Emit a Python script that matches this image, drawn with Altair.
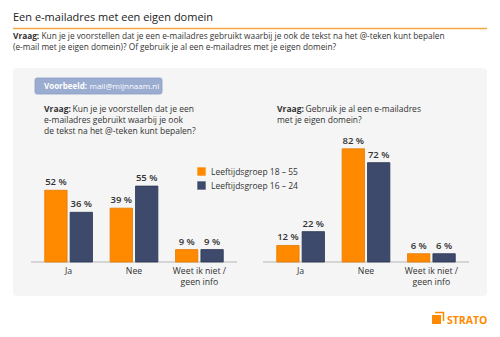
import altair as alt
import pandas as pd

categories = ["Ja", "Nee", "Weet ik niet /\ngeen info"]
groups = ["Leeftijdsgroep 18 – 55", "Leeftijdsgroep 16 – 24"]
left_18_55 = [52, 39, 9]
left_16_24 = [36, 55, 9]
right_18_55 = [12, 82, 6]
right_16_24 = [22, 72, 6]

ORANGE = "#ff8a00"
NAVY = "#3d4a6b"
FONT = "Open Sans"
TXT = "#333333"


def table(a, b):
    rows = []
    for i, c in enumerate(categories):
        rows.append({"cat": c, "group": groups[0], "value": a[i], "label": f"{a[i]} %"})
        rows.append({"cat": c, "group": groups[1], "value": b[i], "label": f"{b[i]} %"})
    return pd.DataFrame(rows)


cats_df = pd.DataFrame({
    "cat": categories,
    "l1": [c.split("\n")[0] for c in categories],
    "l2": [c.split("\n")[1] if "\n" in c else "" for c in categories],
})

yscale = alt.Scale(domain=[0, 100], range=[262, 124])
color = alt.Color(
    "group:N",
    scale=alt.Scale(domain=groups, range=[ORANGE, NAVY]),
    legend=alt.Legend(
        title=None, orient="none", legendX=197, legendY=167, symbolType="square",
        symbolSize=70, symbolStrokeWidth=0, labelFont=FONT, labelFontSize=8.5,
        labelColor=TXT, rowPadding=5, symbolOffset=0, labelOffset=5,
    ),
)


def panel(df, xr):
    xs = alt.Scale(domain=categories, range=xr, paddingInner=0.27, paddingOuter=0.21)
    xo = alt.Scale(domain=groups, paddingInner=0.12)
    bars = alt.Chart(df).mark_bar(strokeWidth=0.8).encode(
        x=alt.X("cat:N", scale=xs, axis=None, sort=categories),
        xOffset=alt.XOffset("group:N", scale=xo, sort=groups),
        y=alt.Y("value:Q", scale=yscale, axis=None),
        y2=alt.datum(0),
        color=color,
        stroke=alt.Stroke("group:N", scale=alt.Scale(domain=groups, range=["#e57a00", "#2b3652"]), legend=None),
    )
    vals = alt.Chart(df).mark_text(
        font=FONT, fontSize=9.5, fontWeight=600, color=TXT, dy=-5, baseline="alphabetic"
    ).encode(
        x=alt.X("cat:N", scale=xs, axis=None, sort=categories),
        xOffset=alt.XOffset("group:N", scale=xo, sort=groups),
        y=alt.Y("value:Q", scale=yscale, axis=None),
        text="label:N",
    )
    base = alt.Chart(df).mark_rule(color="#b5b5b5", strokeWidth=1).encode(
        x=alt.value(xr[0]), x2=alt.value(xr[1]), y=alt.Y("value:Q", scale=yscale, axis=None),
    ).transform_aggregate(value="min(value)").transform_calculate(value="0")
    cl1 = alt.Chart(cats_df).mark_text(
        font=FONT, fontSize=8.7, color=TXT, baseline="alphabetic"
    ).encode(
        x=alt.X("cat:N", scale=xs, axis=None, sort=categories),
        y=alt.value(273.5),
        text="l1:N",
    )
    cl2 = alt.Chart(cats_df).mark_text(
        font=FONT, fontSize=8.7, color=TXT, baseline="alphabetic"
    ).encode(
        x=alt.X("cat:N", scale=xs, axis=None, sort=categories),
        y=alt.value(284.5),
        text="l2:N",
    )
    return alt.layer(base, bars, vals, cl1, cl2)


left = panel(table(left_18_55, left_16_24), [31, 237])
right = panel(table(right_18_55, right_16_24), [263, 469])


def txt(s, x, y, size=8.5, weight="normal", col=TXT, align="left"):
    return alt.Chart(pd.DataFrame({"t": [s]})).mark_text(
        font=FONT, fontSize=size, fontWeight=weight, color=col, align=align, baseline="alphabetic"
    ).encode(x=alt.value(x), y=alt.value(y), text="t:N")


def rect(x, x2, y, y2, fill, stroke=None, r=0):
    kw = dict(fill=fill, cornerRadius=r)
    if stroke:
        kw["stroke"] = stroke
        kw["strokeWidth"] = 0.8
    return alt.Chart(pd.DataFrame({"a": [0]})).mark_rect(**kw).encode(
        x=alt.value(x), x2=alt.value(x2), y=alt.value(y), y2=alt.value(y2)
    )


layers = [
    rect(13, 487, 68, 296, "#f5f5f5", r=3),
    txt("Een e-mailadres met een eigen domein", 13, 21, size=11, col="#222222"),
    alt.Chart(pd.DataFrame({"a": [0]})).mark_rule(color="#f7a640", strokeWidth=1.3).encode(
        x=alt.value(13), x2=alt.value(487), y=alt.value(28.5)
    ),
    txt("Vraag:", 13, 39, size=8.3, weight="bold"),
    txt("Kun je je voorstellen dat je een e-mailadres gebruikt waarbij je ook de tekst na het @-teken kunt bepalen", 41.5, 39, size=8.3),
    txt("(e-mail met je eigen domein)? Of gebruik je al een e-mailadres met je eigen domein?", 13, 50, size=8.3),
    rect(35, 162, 78, 94, "#9aacd0", stroke="#8a9cc2", r=2),
    txt("Voorbeeld:", 44, 89, size=8, weight="bold", col="#ffffff"),
    txt("mail@mijnnaam.nl", 89.5, 89, size=8, col="#ffffff"),
    txt("Vraag:", 44, 112, weight="bold"),
    txt("Kun je je voorstellen dat je een", 72.5, 112),
    txt("e-mailadres gebruikt waarbij je ook", 44, 123),
    txt("de tekst na het @-teken kunt bepalen?", 44, 134),
    txt("Vraag:", 277, 112, weight="bold"),
    txt("Gebruik je al een e-mailadres", 305.5, 112),
    txt("met je eigen domein?", 277, 123),
    left,
    right,
    rect(432, 441, 315, 324, ORANGE),
    alt.Chart(pd.DataFrame({"a": [0]})).mark_rule(color=ORANGE, strokeWidth=1.5).encode(
        x=alt.value(435), x2=alt.value(444), y=alt.value(312.5)
    ),
    alt.Chart(pd.DataFrame({"a": [0]})).mark_rule(color=ORANGE, strokeWidth=1.5).encode(
        x=alt.value(443.5), y=alt.value(312), y2=alt.value(321)
    ),
    txt("STRATO", 447, 324, size=10.5, weight="bold", col=ORANGE),
]

chart = alt.layer(*layers).resolve_scale(
    x="independent", xOffset="independent"
).properties(
    width=500, height=337, autosize=alt.AutoSizeParams(type="none"), padding=0, background="white"
).configure_view(stroke=None)

chart.save("out.html", embed_options={"renderer": "svg", "actions": False})
